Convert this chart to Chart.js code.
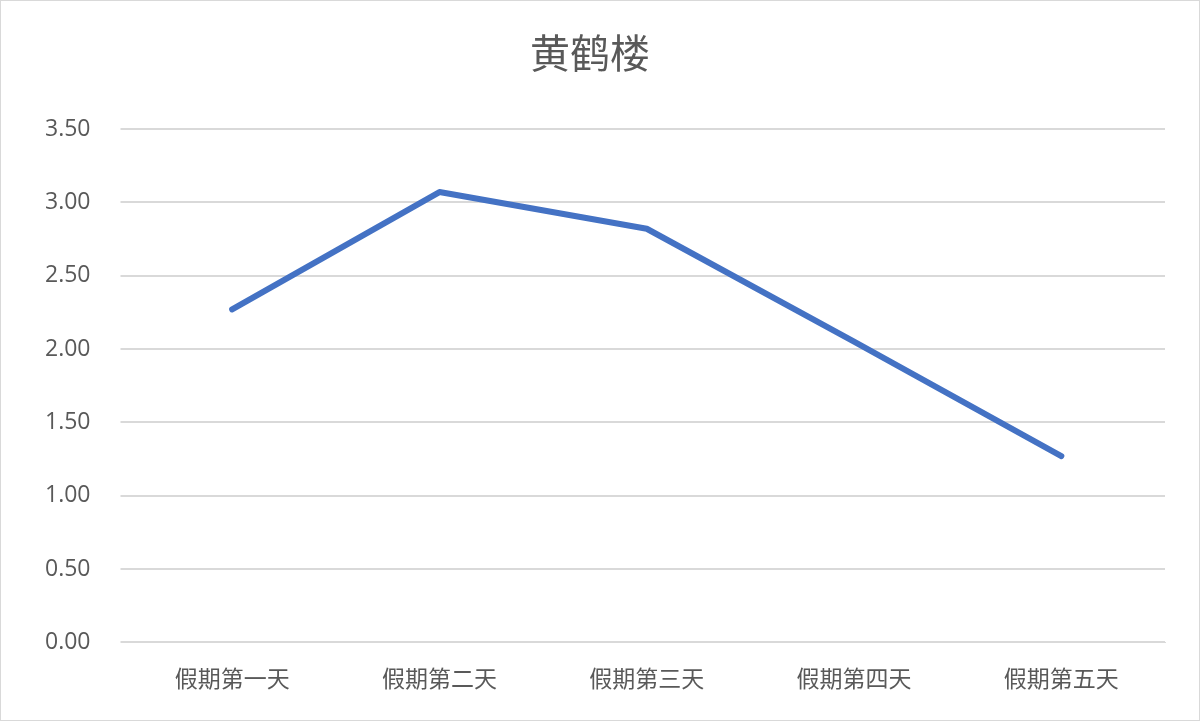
<!DOCTYPE html>
<html>
<head>
<meta charset="utf-8">
<script src="https://cdn.jsdelivr.net/npm/chart.js@4"></script>
<style>
  body { margin: 0; background: #fff; }
  #wrap { position: absolute; left: 0; top: 0; width: 1198px; height: 719px; border: 1px solid #d9d9d9; }
</style>
</head>
<body>
<div id="wrap"><canvas id="chart"></canvas></div>
<script>
// 数据
const days = ['假期第一天', '假期第二天', '假期第三天', '假期第四天', '假期第五天'];
const values = [2.27, 3.07, 2.82, 2.05, 1.27];

const ctx = document.getElementById('chart').getContext('2d');
new Chart(ctx, {
    type: 'line',
    data: {
        labels: days,
        datasets: [{
            label: '黄鹤楼',
            data: values,
            borderColor: '#4472C4',
            borderWidth: 6,
            pointRadius: 0,
            tension: 0,
            borderCapStyle: 'round',
            borderJoinStyle: 'round'
        }]
    },
    options: {
        responsive: true,
        maintainAspectRatio: false,
        animation: false,
        layout: { padding: { left: 14, right: 34, top: 10, bottom: 14 } },
        plugins: {
            legend: { display: false },
            title: {
                display: true,
                text: '黄鹤楼',
                color: '#595959',
                font: { family: 'Noto Sans CJK SC', size: 40, weight: 'normal' },
                padding: { top: 18, bottom: 52 }
            }
        },
        scales: {
            x: {
                offset: true,
                grid: { display: false },
                border: { color: '#d9d9d9' },
                ticks: { color: '#595959', font: { family: 'Noto Sans CJK SC', size: 23 }, padding: 14 }
            },
            y: {
                min: 0,
                max: 3.5,
                border: { display: false },
                grid: { color: '#d9d9d9', lineWidth: 2 },
                ticks: {
                    stepSize: 0.5,
                    color: '#595959',
                    padding: 30,
                    font: { family: 'Open Sans', size: 23 },
                    callback: v => v.toFixed(2)
                }
            }
        }
    }
});
</script>
</body>
</html>
